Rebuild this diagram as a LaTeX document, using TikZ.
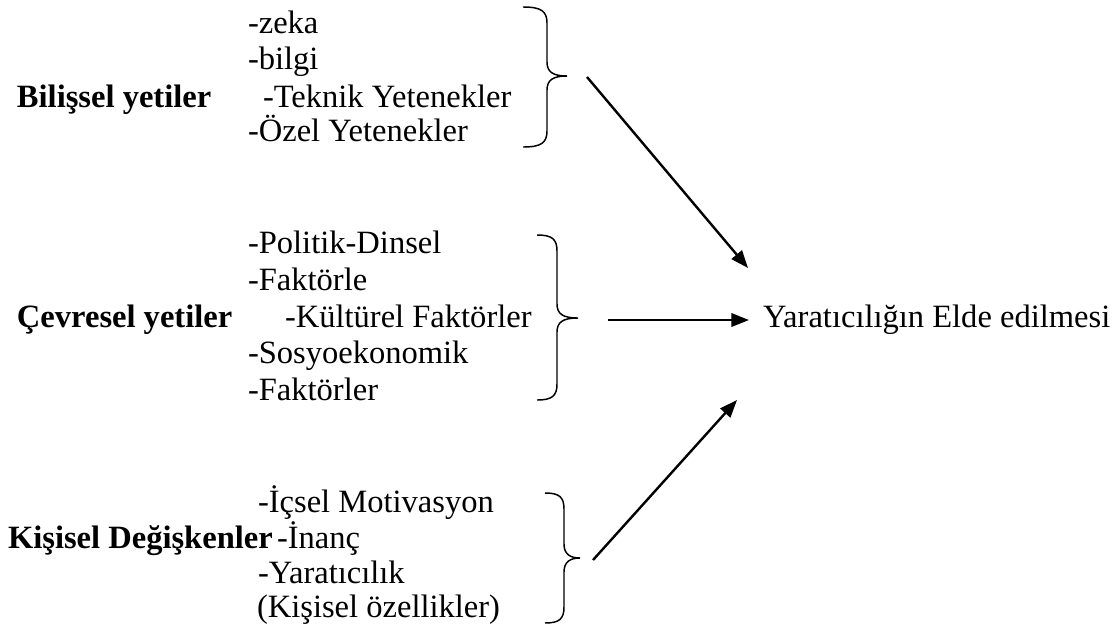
\documentclass[tikz,border=0pt]{standalone}
\usepackage{fontspec}
\setmainfont{Liberation Serif}
\usetikzlibrary{arrows.meta}

% right curly brace: #1 left x, #2 stem x, #3 tip x, #4 top y, #5 tip y, #6 bottom y
\newcommand\curlybrace[6]{%
  \draw[bracestroke] (#1,#4) .. controls ({#1+0.75*(#2-#1)},#4) and (#2,{#4+4}) .. (#2,{#4+16})
    -- (#2,{#5-14}) .. controls (#2,{#5-4}) and ({#2+6},#5) .. (#3,#5)
    .. controls ({#2+6},#5) and (#2,{#5+4}) .. (#2,{#5+14})
    -- (#2,{#6-16}) .. controls (#2,{#6-4}) and ({#1+0.75*(#2-#1)},#6) .. (#1,#6);}

\tikzset{
  item/.style={anchor=base west, inner sep=0pt, outer sep=0pt, font=\fontsize{12.2}{14}\selectfont},
  head/.style={item, font=\fontsize{12.2}{14}\selectfont\bfseries},
  bracestroke/.style={line width=0.55pt},
  flow/.style={line width=0.9pt, -{Triangle[length=6.6pt, width=5pt]}}
}

\begin{document}
\begin{tikzpicture}[x=0.375pt, y=-0.375pt]
  \useasboundingbox (0,0) rectangle (1114,633);

  % cognitive factors
  \node[head] (bil) at (17,107) {Bilişsel yetiler};
  \node[item] (zeka) at (248,33) {-zeka};
  \node[item] (bilgi) at (248,69) {-bilgi};
  \node[item] (teknik) at (263,107) {-Teknik Yetenekler};
  \node[item] (ozel) at (248,141) {-Özel Yetenekler};
  \curlybrace{523}{547}{567}{7}{76}{147}

  % environmental factors
  \node[head] (cev) at (17,327) {Çevresel yetiler};
  \node[item] (pol) at (248,253) {-Politik-Dinsel};
  \node[item] (fak1) at (248,290) {-Faktörle};
  \node[item] (kul) at (285,327) {-Kültürel Faktörler};
  \node[item] (sos) at (248,363) {-Sosyoekonomik};
  \node[item] (fak2) at (248,400) {-Faktörler};
  \curlybrace{537}{557}{578}{235}{318}{400}

  % personal variables
  \node[head] (kis) at (8,548) {Kişisel Değişkenler};
  \node[item] (mot) at (258,512) {-İçsel Motivasyon};
  \node[item] (inanc) at (277,548) {-İnanç};
  \node[item] (yar) at (258,583) {-Yaratıcılık};
  \node[item] (oz) at (257,617) {(Kişisel özellikler)};
  \curlybrace{545}{564}{580}{493}{558}{623}

  % outcome
  \node[item] (goal) at (763,327) {Yaratıcılığın Elde edilmesi};

  % arrow end points
  \coordinate (s1) at (587,77);
  \coordinate (e1) at (748,268);
  \coordinate (s2) at (608,320);
  \coordinate (e2) at (749,320);
  \coordinate (s3) at (593,560);
  \coordinate (e3) at (737,400);

  \draw[flow] (s1) -- (e1);
  \draw[flow] (s2) -- (e2);
  \draw[flow] (s3) -- (e3);
\end{tikzpicture}
\end{document}
